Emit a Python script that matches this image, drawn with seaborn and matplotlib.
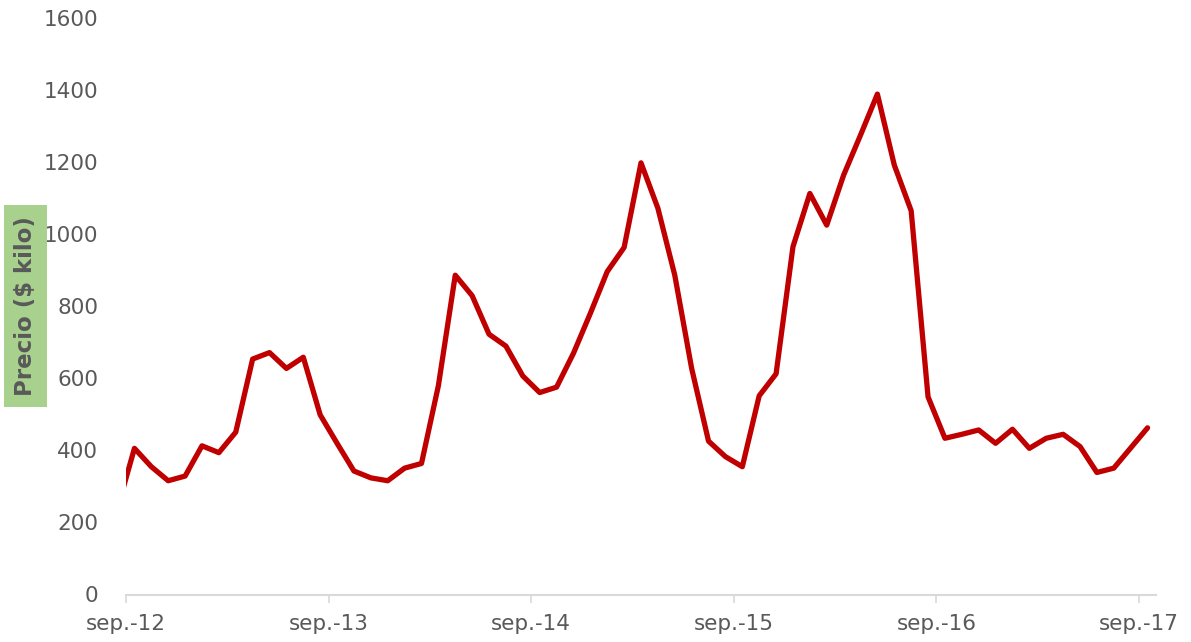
import numpy as np
import pandas as pd
import seaborn as sns
import matplotlib.pyplot as plt
from matplotlib.patches import Rectangle

sns.set_theme(style="white")
plt.rcParams["font.family"] = ["DejaVu Sans"]

# monthly price, ago.-12 (clipped at the left edge) to sep.-17
precio = [240,
          406, 355, 316, 329, 413, 394, 451, 654, 672, 628, 659, 499,
          420, 343, 324, 316, 351, 364, 580, 887, 830, 723, 690, 607,
          561, 576, 670, 781, 897, 964, 1199, 1073, 887, 628, 426, 383,
          355, 552, 613, 966, 1114, 1026, 1165, 1276, 1390, 1193, 1066, 549,
          434, 445, 457, 420, 459, 406, 434, 445, 411, 339, 351, 407,
          463]
tick_labels = ["sep.-12", "sep.-13", "sep.-14", "sep.-15", "sep.-16", "sep.-17"]
y_ticks = [0, 200, 400, 600, 800, 1000, 1200, 1400, 1600]

df = pd.DataFrame({"mes": np.arange(-1, len(precio) - 1), "precio": precio})

fig = plt.figure(figsize=(11.91, 6.42), dpi=100)
ax = fig.add_axes([126 / 1191, 1 - 594.5 / 642, 1030 / 1191, 576 / 642])

sns.lineplot(data=df, x="mes", y="precio", color="#c00000", linewidth=3.8,
             ax=ax, solid_joinstyle="round")

gray = "#595959"
ax.set_xlim(-0.5, 60.5)
ax.set_ylim(0, 1600)
ax.set_xticks([-0.5 + 12 * i for i in range(len(tick_labels))])
ax.set_xticklabels(tick_labels)
ax.set_yticks(y_ticks)
ax.set_yticklabels([str(v) for v in y_ticks])
ax.tick_params(axis="x", bottom=True, colors="#d9d9d9", length=6, width=1.2,
               pad=8, labelcolor=gray, labelsize=15.5)
ax.tick_params(axis="y", left=False, length=0, pad=20, labelcolor=gray,
               labelsize=15.5)
for s in ["top", "right", "left"]:
    ax.spines[s].set_visible(False)
ax.spines["bottom"].set_color("#d9d9d9")
ax.spines["bottom"].set_linewidth(1.5)
ax.set_xlabel("")
ax.set_ylabel("")

# y label on a green box
fig.patches.append(Rectangle((4 / 1191, 1 - 407 / 642), 43 / 1191, 202 / 642,
                             transform=fig.transFigure, facecolor="#a9d18e",
                             edgecolor="none"))
fig.text(26 / 1191, 1 - 306 / 642, "Precio ($ kilo)", rotation=90, ha="center",
         va="center", fontsize=16.5, fontweight="bold", color=gray)

fig.savefig("out.png", dpi=100)
